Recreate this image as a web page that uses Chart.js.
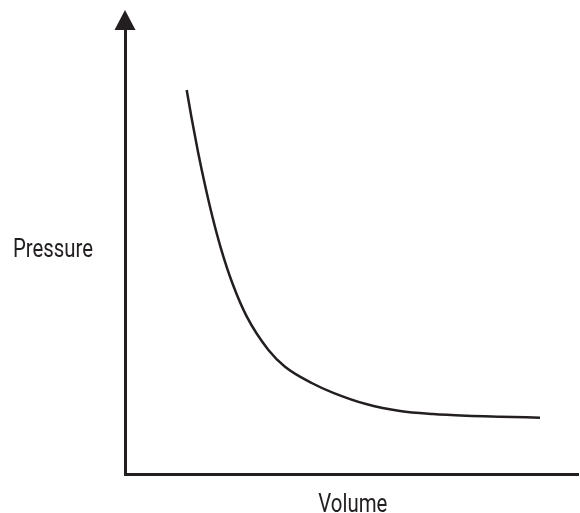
<!DOCTYPE html>
<html>
<head>
<meta charset="utf-8">
<script src="https://cdn.jsdelivr.net/npm/chart.js@4/dist/chart.umd.min.js"></script>
<style>
  html, body { margin: 0; padding: 0; background: #ffffff; }
  #wrap { position: relative; width: 580px; height: 513px; }
</style>
</head>
<body>
<div id="wrap"><canvas id="c" width="580" height="513"></canvas></div>
<script>
// Data (arbitrary units, axis range 0..10)
const volume   = [1.362, 1.471, 1.611, 1.766, 1.938, 2.117, 2.371, 2.689, 3.166, 3.532, 4.121, 4.598, 5.342, 6.071, 6.799, 7.550, 8.278, 9.161];
const pressure = [8.649, 8.011, 7.259, 6.509, 5.759, 5.083, 4.295, 3.543, 2.793, 2.417, 2.050, 1.829, 1.570, 1.419, 1.351, 1.313, 1.291, 1.268];
const xTitle = 'Volume';
const yTitle = 'Pressure';

const INK = '#231f20';
const FONT = 'Roboto, "Liberation Sans", sans-serif';

const points = volume.map((v, i) => ({ x: v, y: pressure[i] }));

function condensedText(ctx, text, cx, baseline, targetWidth) {
  const w = ctx.measureText(text).width;
  const s = Math.min(1, targetWidth / w);
  ctx.save();
  ctx.translate(cx, baseline);
  ctx.scale(s, 1);
  ctx.textAlign = 'center';
  ctx.textBaseline = 'alphabetic';
  ctx.fillText(text, 0, 0);
  ctx.restore();
}

const decor = {
  id: 'decor',
  afterDraw(chart) {
    const ctx = chart.ctx;
    const a = chart.chartArea;
    ctx.save();
    // arrow head on the pressure axis
    ctx.fillStyle = INK;
    ctx.beginPath();
    ctx.moveTo(a.left, a.top - 20);
    ctx.lineTo(a.left - 10.5, a.top);
    ctx.lineTo(a.left + 10.5, a.top);
    ctx.closePath();
    ctx.fill();
    // axis titles
    ctx.fillStyle = INK;
    ctx.font = '25px ' + FONT;
    condensedText(ctx, yTitle, 53, 256.5, 80);
    condensedText(ctx, xTitle, (a.left + a.right) / 2 + 1.3, a.bottom + 37.5, 69);
    ctx.restore();
  }
};

new Chart(document.getElementById('c'), {
  type: 'scatter',
  data: {
    datasets: [{
      data: points,
      showLine: true,
      borderColor: INK,
      borderWidth: 2.5,
      pointRadius: 0,
      fill: false,
      cubicInterpolationMode: 'monotone'
    }]
  },
  options: {
    responsive: false,
    animation: false,
    devicePixelRatio: 1,
    layout: { padding: { left: 125, right: 2, top: 30, bottom: 39 } },
    plugins: { legend: { display: false }, tooltip: { enabled: false } },
    scales: {
      x: {
        type: 'linear', min: 0, max: 10,
        ticks: { display: false },
        grid: { display: false, drawTicks: false },
        border: { display: true, color: INK, width: 3 }
      },
      y: {
        type: 'linear', min: 0, max: 10,
        ticks: { display: false },
        grid: { display: false, drawTicks: false },
        border: { display: true, color: INK, width: 3 }
      }
    }
  },
  plugins: [decor]
});
</script>
</body>
</html>
